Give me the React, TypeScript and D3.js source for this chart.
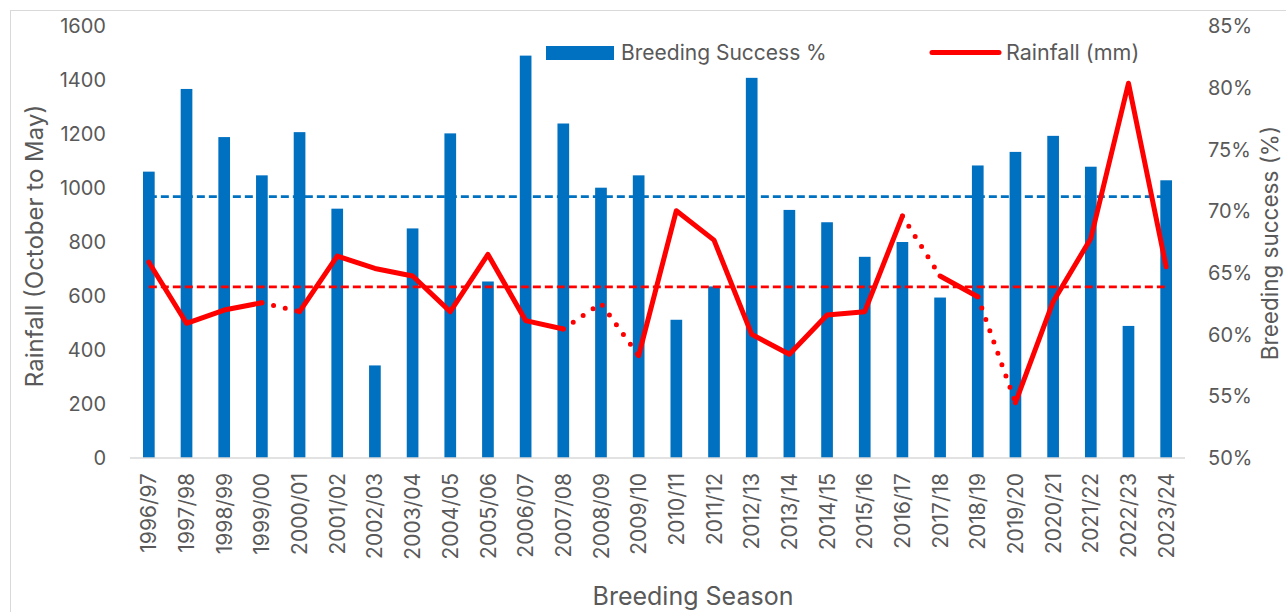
import React from "react";
import * as d3 from "d3";

const seasons = [
  "1996/97", "1997/98", "1998/99", "1999/00", "2000/01", "2001/02", "2002/03",
  "2003/04", "2004/05", "2005/06", "2006/07", "2007/08", "2008/09", "2009/10",
  "2010/11", "2011/12", "2012/13", "2013/14", "2014/15", "2015/16", "2016/17",
  "2017/18", "2018/19", "2019/20", "2020/21", "2021/22", "2022/23", "2023/24",
];

// Breeding success (%) — bars, right axis
const breedingSuccess = [
  73.2, 79.9, 76.0, 72.9, 76.4, 70.2, 57.5, 68.6, 76.3, 64.3, 82.6, 77.1, 71.9, 72.9,
  61.2, 63.9, 80.8, 70.1, 69.1, 66.3, 67.5, 63.0, 73.7, 74.8, 76.1, 73.6, 60.7, 72.5,
];

// Rainfall October to May (mm) — line, left axis
const rainfall = [
  725, 499, 548, 575, 542, 748, 702, 674, 542, 754, 509, 478, 573, 379,
  916, 807, 458, 384, 530, 542, 896, 674, 597, 205, 579, 813, 1388, 708,
];

// Seasons whose link to the following season is drawn dotted
const dottedLinksFrom = ["1999/00", "2007/08", "2008/09", "2016/17", "2018/19"];

const leftTicks = [0, 200, 400, 600, 800, 1000, 1200, 1400, 1600];
const rightTicks = [50, 55, 60, 65, 70, 75, 80, 85];

const W = 1286;
const H = 612;
const FONT = "Inter, 'Noto Sans', sans-serif";
const TEXT = "#595959";
const BLUE = "#0070C0";
const RED = "#FF0000";

export default function App() {
  const x = d3.scaleBand<string>().domain(seasons).range([130, 1185]).padding(0);
  const yL = d3.scaleLinear().domain([0, 1600]).range([458, 26]);
  const yR = d3.scaleLinear().domain([50, 85]).range([458, 26]);
  const bw = x.bandwidth() * 0.31;
  const cx = (s: string) => (x(s) as number) + x.bandwidth() / 2;

  const meanBS = d3.mean(breedingSuccess) as number;
  const meanRain = d3.mean(rainfall) as number;

  // Build runs of solid and dotted segments
  type Run = { dotted: boolean; idx: number[] };
  const runs: Run[] = [];
  for (let i = 0; i < seasons.length - 1; i++) {
    const dotted = dottedLinksFrom.includes(seasons[i]);
    const last = runs[runs.length - 1];
    if (last && last.dotted === dotted) {
      last.idx.push(i + 1);
    } else {
      runs.push({ dotted, idx: [i, i + 1] });
    }
  }
  const path = d3
    .line<number>()
    .x((i) => cx(seasons[i]))
    .y((i) => yL(rainfall[i]));

  const x0 = cx(seasons[0]);
  const x1 = cx(seasons[seasons.length - 1]);

  return (
    <svg
      width={W}
      height={H}
      style={{ position: "absolute", left: 0, top: 0, background: "#fff" }}
      fontFamily={FONT}
    >
      <rect x={0} y={0} width={W} height={H} fill="#fff" />
      <rect x={10.5} y={10.5} width={W + 20} height={H + 20} fill="none" stroke="#D9D9D9" strokeWidth={1} />

      {/* bars */}
      {seasons.map((s, i) => (
        <rect
          key={s}
          x={cx(s) - bw / 2}
          y={yR(breedingSuccess[i])}
          width={bw}
          height={yR(50) - yR(breedingSuccess[i])}
          fill={BLUE}
        />
      ))}

      {/* x axis line */}
      <line x1={130} x2={1185} y1={458} y2={458} stroke="#D9D9D9" strokeWidth={1.5} />

      {/* mean lines */}
      <line x1={x0} x2={x1} y1={yR(meanBS)} y2={yR(meanBS)} stroke={BLUE} strokeWidth={2.75} strokeDasharray="8 4" />
      <line x1={x0} x2={x1} y1={yL(meanRain)} y2={yL(meanRain)} stroke={RED} strokeWidth={2.75} strokeDasharray="8 4" />

      {/* rainfall line */}
      {runs.map((r, k) => (
        <path
          key={k}
          d={path(r.idx) || ""}
          fill="none"
          stroke={RED}
          strokeWidth={5}
          strokeLinecap="round"
          strokeLinejoin="round"
          strokeDasharray={r.dotted ? "0 12" : undefined}
        />
      ))}

      {/* left ticks */}
      {leftTicks.map((t) => (
        <text key={t} x={106} y={yL(t)} dy="0.36em" textAnchor="end" fontSize={20} fill={TEXT}>
          {t}
        </text>
      ))}
      {/* right ticks */}
      {rightTicks.map((t) => (
        <text key={t} x={1208} y={yR(t)} dy="0.36em" textAnchor="start" fontSize={20} fill={TEXT}>
          {t}%
        </text>
      ))}

      {/* category labels */}
      {seasons.map((s) => (
        <text
          key={s}
          transform={`translate(${cx(s)},473) rotate(-90)`}
          dy="0.36em"
          textAnchor="end"
          fontSize={21}
          fill={TEXT}
        >
          {s}
        </text>
      ))}

      {/* axis titles */}
      <text transform="translate(43,246) rotate(-90)" textAnchor="middle" fontSize={24} fill={TEXT}>
        Rainfall (October to May)
      </text>
      <text transform="translate(1278,243) rotate(-90)" textAnchor="middle" fontSize={22.5} fill={TEXT}>
        Breeding success (%)
      </text>
      <text x={693} y={605} textAnchor="middle" fontSize={25} fill={TEXT}>
        Breeding Season
      </text>

      {/* legend */}
      <rect x={546} y={46} width={68} height={14} fill={BLUE} />
      <text x={621} y={59.5} fontSize={21} fill={TEXT}>
        Breeding Success %
      </text>
      <line x1={932} x2={999} y1={52.5} y2={52.5} stroke={RED} strokeWidth={5} strokeLinecap="round" />
      <text x={1006} y={59.5} fontSize={21.5} fill={TEXT}>
        Rainfall (mm)
      </text>
    </svg>
  );
}
